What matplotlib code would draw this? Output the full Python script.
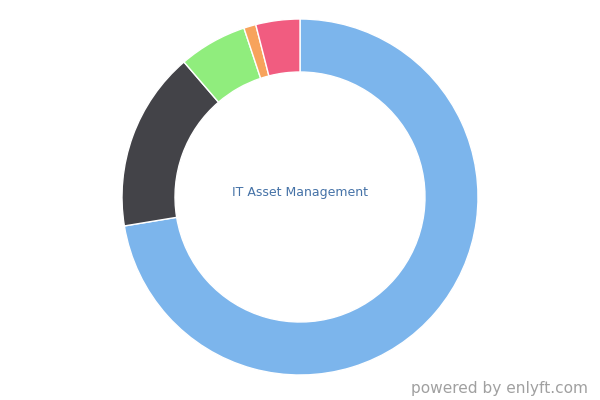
import matplotlib
matplotlib.use("Agg")
import matplotlib.pyplot as plt

categories = ["Category A", "Category B", "Category C", "Category D", "Category E"]
shares = [72.4, 16.3, 6.2, 1.1, 4.0]
colors = ["#7cb5ec", "#434348", "#90ed7d", "#f7a35c", "#f15c80"]
center_label = "IT Asset Management"
credit = "powered by enlyft.com"

W, H = 600, 400
cx, cy = 300, 197          # donut centre in pixels (from top-left)
r_out, r_in = 178, 125     # outer / inner radius in pixels

fig = plt.figure(figsize=(W / 100, H / 100), dpi=100)
ax = fig.add_axes([0, 0, 1, 1])
ax.pie(shares, colors=colors, startangle=90, counterclock=False, radius=1.0,
       wedgeprops=dict(width=(r_out - r_in) / r_out, edgecolor="white", linewidth=1.0))
ax.set_xlim(-cx / r_out, (W - cx) / r_out)
ax.set_ylim(-(H - cy) / r_out, cy / r_out)
ax.set_aspect("auto")
ax.axis("off")

fig.text(cx / W, 1 - 193 / H, center_label, ha="center", va="center",
         fontsize=9, color="#4572a7")
fig.text(588 / W, 1 - 389 / H, credit, ha="right", va="center", fontsize=11.1, color="#a0a0a0")

fig.savefig("out.png", dpi=100)
